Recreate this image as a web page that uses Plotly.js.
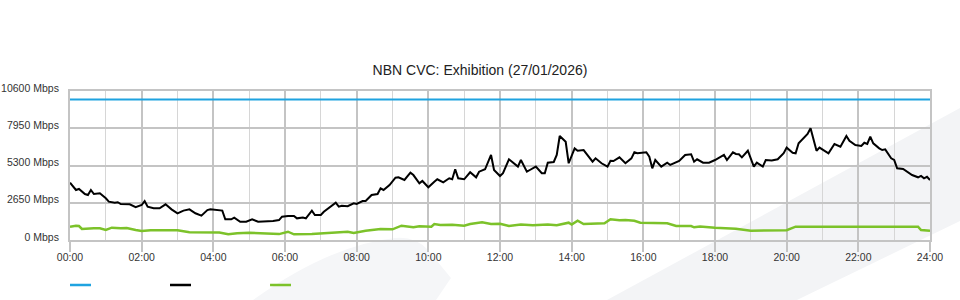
<!DOCTYPE html>
<html>
<head>
<meta charset="utf-8">
<script src="https://cdn.plot.ly/plotly-3.0.1.min.js"></script>
<style>
  html, body { margin: 0; padding: 0; background: #ffffff; }
  #chart { width: 960px; height: 300px; }
</style>
</head>
<body>
<div id="chart"></div>
<script>
// ---- Data ----
var chartTitle = 'NBN CVC: Exhibition (27/01/2026)';

var xTickHours = [0, 2, 4, 6, 8, 10, 12, 14, 16, 18, 20, 22, 24];
var xTickLabels = ['00:00', '02:00', '04:00', '06:00', '08:00', '10:00', '12:00',
                   '14:00', '16:00', '18:00', '20:00', '22:00', '24:00'];
var xMinorHours = [1, 3, 5, 7, 9, 11, 13, 15, 17, 19, 21, 23];

var yTickValues = [0, 2650, 5300, 7950, 10600];
var yTickLabels = ['0 Mbps', '2650 Mbps', '5300 Mbps', '7950 Mbps', '10600 Mbps'];

// CVC capacity (blue)
var capMinutes = [0, 1440];
var capMbps = [10000, 10000];

// Download traffic (black), minutes after midnight
var dlMinutes = [
  0, 10, 15, 25, 30, 35, 40, 50, 60, 65, 75, 80, 85,
  100, 110, 120, 125, 130, 140, 150, 160, 170, 180, 190, 200, 210, 220, 230, 235, 250, 255,
  260, 270, 275, 285, 295, 305, 315, 325, 340, 350, 355, 365, 375, 380, 390, 395,
  405, 410, 420, 425, 435, 445, 450, 455, 465, 475, 480, 490, 495,
  505, 515, 520, 525, 535, 545, 550, 560, 570, 575, 585, 590, 600, 610, 615, 625, 635, 640, 645, 650, 660, 670, 680, 685, 695,
  705, 710, 720, 725, 735, 740, 750, 755, 765, 770,
  780, 790, 795, 800, 810, 815, 820, 830, 835, 845,
  850, 860, 875, 880, 890, 900, 905, 910, 920, 930,
  940, 945, 950, 965, 970, 975, 980, 990, 1000, 1005,
  1020, 1030, 1040, 1045, 1050, 1060, 1070, 1080,
  1095, 1100, 1110, 1115, 1120, 1125, 1135, 1145, 1150, 1160,
  1165, 1175, 1185, 1195, 1200, 1210, 1215, 1220, 1230, 1235,
  1240, 1250, 1255, 1270, 1280, 1290, 1300, 1305, 1315, 1325,
  1330, 1335, 1340, 1345, 1355, 1360, 1365, 1375, 1380, 1385,
  1395, 1405, 1410, 1420, 1425, 1430, 1435, 1440
];
var dlMbps = [
  4080, 3560, 3630, 3270, 3200, 3560, 3270, 3320, 2970, 2730, 2650, 2690, 2560,
  2540, 2330, 2490, 2770, 2370, 2260, 2260, 2540, 2180, 1900, 2090, 2180, 1900, 1730, 2130, 2180, 2090, 2090,
  1470, 1470, 1590, 1300, 1300, 1470, 1300, 1300, 1350, 1420, 1660, 1710, 1710, 1540, 1600, 1540,
  2090, 1780, 1780, 2010, 2300, 2650, 2370, 2440, 2400, 2610, 2560, 2770, 2770,
  3200, 3270, 3680, 3560, 3910, 4430, 4460, 4270, 4790, 4620, 4030, 4200, 3750, 4150, 4320, 4100, 4390, 4320, 5030, 4390, 4320, 4820, 4460, 4860, 5030,
  6050, 4980, 4550, 4750, 5740, 5570, 5220, 5690, 4860, 4980,
  5220, 4750, 4750, 5500, 5550, 6050, 7400, 6990, 5460, 6520,
  6350, 6400, 5570, 5810, 5460, 5220, 5640, 5620, 5880, 5460,
  5810, 6240, 6170, 6240, 5930, 5100, 5690, 5220, 5500, 5340,
  5620, 6050, 6100, 5570, 5740, 5500, 5500, 5690,
  6050, 5690, 6240, 6120, 6100, 5880, 6350, 5220, 5500, 5220,
  5690, 5650, 5740, 6170, 6570, 6210, 6170, 6880, 7310, 7540,
  7950, 6350, 6570, 6170, 6830, 6640, 7400, 7060, 6760, 6690,
  6920, 6830, 7350, 6880, 6520, 6400, 6450, 5810, 5700, 5100,
  5050, 4790, 4620, 4460, 4560, 4390, 4500, 4270
];

// Upload traffic (green), minutes after midnight
var ulMinutes = [
  0, 10, 15, 20, 40, 50, 60, 70, 85, 95,
  110, 120, 135, 160, 180, 200, 220, 250, 265, 280,
  300, 320, 340, 350, 365, 375, 405, 430, 450, 465,
  475, 495, 520, 540, 555, 575, 585, 605, 610, 620,
  640, 660, 670, 690, 705, 720, 735, 755, 775, 800,
  815, 835, 840, 850, 860, 880, 895, 905, 920, 930,
  945, 955, 980, 1000, 1015, 1040, 1045, 1055, 1080, 1100,
  1115, 1140, 1165, 1190, 1200, 1215, 1245, 1280, 1300, 1325,
  1355, 1390, 1420, 1425, 1440
];
var ulMbps = [
  946, 1017, 996, 783, 832, 830, 711, 875, 830, 850,
  711, 640, 690, 690, 690, 548, 548, 540, 405, 480,
  519, 480, 405, 420, 590, 405, 420, 480, 548, 590,
  500, 661, 783, 761, 1017, 903, 970, 946, 1138, 1060,
  1090, 1017, 1138, 1259, 1138, 1160, 996, 1100, 1050, 1100,
  1050, 1231, 1100, 1373, 1138, 1138, 1188, 1473, 1400, 1423,
  1373, 1231, 1231, 1188, 996, 996, 903, 960, 875, 832,
  800, 661, 661, 661, 700, 946, 946, 903, 946, 946,
  946, 946, 946, 711, 661
];

// ---- Styles ----
var colCap = '#1fa3e0';
var colDl = '#000000';
var colUl = '#7cc22a';
var gridMajor = '#c4c4c4';
var gridMinor = '#d6d6d6';
var wmFill = '#f3f4f6';

function toHours(arr) { return arr.map(function (m) { return m / 60; }); }

var traces = [
  { x: toHours(capMinutes), y: capMbps, type: 'scatter', mode: 'lines',
    line: { color: colCap, width: 2 }, hoverinfo: 'skip' },
  { x: toHours(ulMinutes), y: ulMbps, type: 'scatter', mode: 'lines',
    line: { color: colUl, width: 2.5 }, hoverinfo: 'skip' },
  { x: toHours(dlMinutes), y: dlMbps, type: 'scatter', mode: 'lines',
    line: { color: colDl, width: 2 }, hoverinfo: 'skip' }
];

// pixel helpers for decorative (non-data) shapes in paper coordinates
var L = 70, R = 930, T = 91, B = 240;
function px(x) { return ((x - L) / (R - L)).toFixed(4); }
function py(y) { return ((B - y) / (B - T)).toFixed(4); }

var shapes = [
  // watermark band, bottom-right
  { type: 'path', xref: 'paper', yref: 'paper', layer: 'below',
    path: 'M ' + px(607) + ',' + py(300) + ' L ' + px(962) + ',' + py(107) +
          ' L ' + px(962) + ',' + py(220) + ' L ' + px(797) + ',' + py(300) + ' Z',
    fillcolor: wmFill, line: { width: 0 } },
  // watermark curved shape, bottom-middle
  { type: 'path', xref: 'paper', yref: 'paper', layer: 'below',
    path: 'M ' + px(253) + ',' + py(300) + ' Q ' + px(330) + ',' + py(245) + ' ' + px(395) + ',' + py(238) +
          ' Q ' + px(415) + ',' + py(236) + ' ' + px(428) + ',' + py(250) +
          ' L ' + px(451) + ',' + py(278) + ' L ' + px(436) + ',' + py(300) + ' Z',
    fillcolor: '#f5f6f8', line: { width: 0 } },
  // legend keys
  { type: 'line', xref: 'paper', yref: 'paper', x0: px(70), x1: px(91), y0: py(285), y1: py(285),
    line: { color: colCap, width: 2.5 } },
  { type: 'line', xref: 'paper', yref: 'paper', x0: px(170), x1: px(191), y0: py(285), y1: py(285),
    line: { color: colDl, width: 2.5 } },
  { type: 'line', xref: 'paper', yref: 'paper', x0: px(270), x1: px(291), y0: py(285), y1: py(285),
    line: { color: colUl, width: 2.5 } }
];

var layout = {
  width: 960, height: 300,
  margin: { l: L, r: 960 - R, t: T, b: 300 - B, pad: 0 },
  paper_bgcolor: '#ffffff',
  plot_bgcolor: 'rgba(0,0,0,0)',
  showlegend: false,
  hovermode: false,
  font: { family: '"Liberation Sans", Arial, sans-serif', color: '#333333', size: 10.5 },
  title: {
    text: chartTitle, x: 0.5, xref: 'container', xanchor: 'center',
    y: 1 - 70 / 300, yref: 'container', yanchor: 'middle',
    font: { size: 14, color: '#222222', family: '"Liberation Sans", Arial, sans-serif' }
  },
  xaxis: {
    range: [0, 24], fixedrange: true,
    tickmode: 'array', tickvals: xTickHours, ticktext: xTickLabels,
    showgrid: true, gridcolor: gridMajor, gridwidth: 2,
    ticks: 'outside', ticklen: 10, tickwidth: 2, tickcolor: gridMajor,
    ticklabelstandoff: -4,
    tickfont: { size: 10.5, color: '#333333' },
    minor: { tickmode: 'array', tickvals: xMinorHours, showgrid: true,
             gridcolor: gridMinor, gridwidth: 1, ticks: '' },
    zeroline: false, showline: true, mirror: true, linecolor: gridMajor, linewidth: 2
  },
  yaxis: {
    range: [0, 10600], fixedrange: true,
    tickmode: 'array', tickvals: yTickValues, ticktext: yTickLabels,
    showgrid: true, gridcolor: gridMajor, gridwidth: 2,
    ticks: 'outside', ticklen: 7, tickcolor: 'rgba(0,0,0,0)',
    ticklabelshift: -3,
    tickfont: { size: 10.5, color: '#333333' },
    zeroline: false, showline: true, mirror: true, linecolor: gridMajor, linewidth: 2
  },
  shapes: shapes
};

Plotly.newPlot('chart', traces, layout, { staticPlot: true, displayModeBar: false });
</script>
</body>
</html>
